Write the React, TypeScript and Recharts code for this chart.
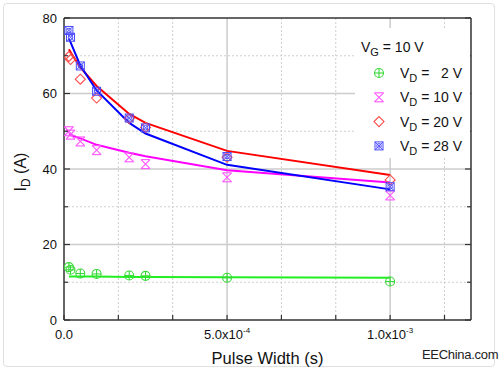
import React from "react";
import { ComposedChart, Line, Scatter, XAxis, YAxis, ReferenceLine, Legend } from "recharts";

// I_D vs pulse width at V_G = 10 V, four drain biases: measured points + fitted curves.

const FONT = '"Liberation Sans", Arial, sans-serif';

const pulseWidth = [1.5e-5, 2e-5, 5e-5, 1e-4, 2e-4, 2.5e-4, 5e-4, 1e-3];

const vd2Meas = [14.0, 13.3, 12.3, 12.2, 11.8, 11.7, 11.2, 10.2];
const vd10Meas = [50.0, 49.1, 47.3, 45.0, 43.1, 41.3, 37.8, 33.0];
const vd20Meas = [69.8, 69.0, 63.8, 58.8, 53.4, 51.0, 43.1, 37.1];
const vd28Meas = [76.7, 74.9, 67.3, 60.6, 53.5, 50.9, 43.3, 35.3];

const vd2Fit = [11.5, 11.5, 11.5, 11.5, 11.4, 11.4, 11.3, 11.2];
const vd10Fit = [49.2, 49.0, 48.1, 46.4, 44.3, 43.4, 39.7, 36.4];
const vd20Fit = [71.7, 71.0, 66.9, 62.0, 54.6, 52.2, 44.8, 38.4];
const vd28Fit = [74.5, 73.6, 67.4, 60.8, 52.2, 49.4, 41.1, 34.6];

const xTicks = [0, 1.667e-4, 3.333e-4, 5e-4, 6.667e-4, 8.333e-4, 1e-3, 1.1667e-3];
const xLabelTicks = [0, 5e-4, 1e-3];
const xLabelBase = ["0.0", "5.0x10", "1.0x10"];
const xLabelExp = ["", "-4", "-3"];
const xGridMajor = [5e-4, 1e-3];
const xGridMinor = [1.667e-4, 3.333e-4, 6.667e-4, 8.333e-4, 1.1667e-3];

const yTicks = [0, 10, 20, 30, 40, 50, 60, 70, 80];
const yLabelTicks = [0, 20, 40, 60, 80];
const yGridMajor = [20, 40, 60];
const yGridMinor = [10, 30, 50, 70];

const legendTitle = "10 V";
const legendValues = ["  2 V", "10 V", "20 V", "28 V"];

type Shape = "circlePlus" | "hourglass" | "diamond" | "boxX";

const series: { key: string; meas: number[]; fit: number[]; line: string; marker: string; shape: Shape }[] = [
  { key: "vd2", meas: vd2Meas, fit: vd2Fit, line: "#22ee22", marker: "#3ad83a", shape: "circlePlus" },
  { key: "vd10", meas: vd10Meas, fit: vd10Fit, line: "#ff00ff", marker: "#ff55ff", shape: "hourglass" },
  { key: "vd20", meas: vd20Meas, fit: vd20Fit, line: "#ff0000", marker: "#ff4a4a", shape: "diamond" },
  { key: "vd28", meas: vd28Meas, fit: vd28Fit, line: "#0000ff", marker: "#4a4aff", shape: "boxX" },
];

const toRows = (ys: number[]) => pulseWidth.map((x, i) => ({ x, y: ys[i] }));

function Marker({ cx, cy, shape, color }: { cx: number; cy: number; shape: Shape; color: string }) {
  const s = 4.5;
  if (shape === "circlePlus") {
    return (
      <g stroke={color} strokeWidth={1.1} fill="none">
        <circle cx={cx} cy={cy} r={s} />
        <line x1={cx - s} y1={cy} x2={cx + s} y2={cy} />
        <line x1={cx} y1={cy - s} x2={cx} y2={cy + s} />
      </g>
    );
  }
  if (shape === "hourglass") {
    return (
      <g stroke={color} strokeWidth={1.1} fill="none">
        <line x1={cx - s} y1={cy - s} x2={cx + s} y2={cy + s} />
        <line x1={cx + s} y1={cy - s} x2={cx - s} y2={cy + s} />
        <line x1={cx - s} y1={cy - s} x2={cx + s} y2={cy - s} />
        <line x1={cx - s} y1={cy + s} x2={cx + s} y2={cy + s} />
      </g>
    );
  }
  if (shape === "diamond") {
    return (
      <polygon
        points={`${cx},${cy - s - 0.5} ${cx + s + 0.5},${cy} ${cx},${cy + s + 0.5} ${cx - s - 0.5},${cy}`}
        stroke={color}
        strokeWidth={1.1}
        fill="none"
      />
    );
  }
  return (
    <g stroke={color} strokeWidth={1} fill="none">
      <rect x={cx - 4} y={cy - 4} width={8} height={8} />
      <line x1={cx - 4} y1={cy - 4} x2={cx + 4} y2={cy + 4} />
      <line x1={cx + 4} y1={cy - 4} x2={cx - 4} y2={cy + 4} />
      <circle cx={cx} cy={cy} r={2.3} />
    </g>
  );
}

function LeftTick(props: any) {
  const { x, y, payload } = props;
  const major = yLabelTicks.includes(payload.value);
  return (
    <g>
      <line x1={x} y1={y} x2={x + (major ? 6 : 4)} y2={y} stroke="#333" strokeWidth={1.2} />
      {major && (
        <text x={x - 7} y={y} dy={4.5} textAnchor="end" fontSize={13} fill="#111" fontFamily={FONT}>
          {payload.value}
        </text>
      )}
    </g>
  );
}

function RightTick(props: any) {
  const { x, y, payload } = props;
  const major = yLabelTicks.includes(payload.value);
  return <line x1={x} y1={y} x2={x - (major ? 6 : 4)} y2={y} stroke="#333" strokeWidth={1.2} />;
}

function BottomTick(props: any) {
  const { x, y, payload } = props;
  const idx = xLabelTicks.findIndex((v) => Math.abs(v - payload.value) < 1e-9);
  return (
    <g>
      <line x1={x} y1={y} x2={x} y2={y - 5} stroke="#333" strokeWidth={1.2} />
      {idx >= 0 && (
        <text x={x} y={y + 19} textAnchor="middle" fontSize={13} fill="#111" fontFamily={FONT}>
          {xLabelBase[idx]}
          {xLabelExp[idx] && (
            <tspan dy={-6} fontSize={8}>
              {xLabelExp[idx]}
            </tspan>
          )}
        </text>
      )}
    </g>
  );
}

function TopTick(props: any) {
  const { x, y } = props;
  return <line x1={x} y1={y} x2={x} y2={y + 5} stroke="#333" strokeWidth={1.2} />;
}

function LegendBox() {
  return (
    <svg width={115} height={130} style={{ display: "block" }}>
      <text x={6} y={24} fontSize={14} fill="#111" fontFamily={FONT} style={{ whiteSpace: "pre" }}>
        V<tspan dy={4} fontSize={11}>G</tspan>
        <tspan dy={-4}>{" = " + legendTitle}</tspan>
      </text>
      {series.map((s, i) => {
        const cy = 45 + i * 24.3;
        return (
          <g key={s.key}>
            <Marker cx={24} cy={cy} shape={s.shape} color={s.marker} />
            <text x={45} y={cy + 5} fontSize={14} fill="#111" fontFamily={FONT} style={{ whiteSpace: "pre" }}>
              V<tspan dy={4} fontSize={11}>D</tspan>
              <tspan dy={-4}>{" = " + legendValues[i]}</tspan>
            </text>
          </g>
        );
      })}
    </svg>
  );
}

export default function App() {
  return (
    <div style={{ position: "absolute", left: 0, top: 0, width: 500, height: 370, background: "#fff", fontFamily: FONT }}>
      <div
        style={{
          position: "absolute",
          left: 3,
          top: 3,
          width: 492,
          height: 364,
          border: "1px solid #e0e0e0",
          borderRadius: 4,
          boxSizing: "border-box",
        }}
      />
      <ComposedChart
        width={500}
        height={370}
        margin={{ top: 10, right: 19, bottom: 0, left: 8 }}
        style={{ position: "absolute", left: 0, top: 0 }}
      >
        <XAxis
          xAxisId="b"
          dataKey="x"
          type="number"
          domain={[0, 1.248e-3]}
          allowDataOverflow
          ticks={xTicks}
          interval={0}
          height={50}
          tickSize={0}
          tickMargin={0}
          tickLine={false}
          tick={<BottomTick />}
          axisLine={{ stroke: "#333", strokeWidth: 1.5 }}
          label={{
            content: ({ viewBox }: any) => (
              <text
                x={viewBox.x + viewBox.width / 2}
                y={viewBox.y + 44}
                textAnchor="middle"
                fontSize={16.5}
                fill="#111"
                fontFamily={FONT}
              >
                Pulse Width (s)
              </text>
            ),
          }}
        />
        <XAxis
          xAxisId="t"
          orientation="top"
          type="number"
          domain={[0, 1.248e-3]}
          allowDataOverflow
          ticks={xTicks}
          interval={0}
          height={8}
          tickSize={0}
          tickMargin={0}
          tickLine={false}
          tick={<TopTick />}
          axisLine={{ stroke: "#333", strokeWidth: 1.5 }}
        />
        <YAxis
          yAxisId="l"
          type="number"
          domain={[0, 80]}
          allowDataOverflow
          ticks={yTicks}
          interval={0}
          width={56}
          tickSize={0}
          tickMargin={0}
          tickLine={false}
          tick={<LeftTick />}
          axisLine={{ stroke: "#333", strokeWidth: 1.5 }}
          label={{
            content: () => (
              <text
                x={26}
                y={172}
                transform="rotate(-90, 26, 172)"
                textAnchor="middle"
                fontSize={16}
                fill="#111"
                fontFamily={FONT}
              >
                I<tspan dy={4} fontSize={12}>D</tspan>
                <tspan dy={-4}> (A)</tspan>
              </text>
            ),
          }}
        />
        <YAxis
          yAxisId="r"
          orientation="right"
          type="number"
          domain={[0, 80]}
          allowDataOverflow
          ticks={yTicks}
          interval={0}
          width={10}
          tickSize={0}
          tickMargin={0}
          tickLine={false}
          tick={<RightTick />}
          axisLine={{ stroke: "#333", strokeWidth: 1.5 }}
        />

        {xGridMinor.map((v) => (
          <ReferenceLine key={"xm" + v} x={v} xAxisId="b" yAxisId="l" stroke="#cfcfcf" strokeDasharray="2 2" />
        ))}
        {yGridMinor.map((v) => (
          <ReferenceLine key={"ym" + v} y={v} xAxisId="b" yAxisId="l" stroke="#cfcfcf" strokeDasharray="2 2" />
        ))}
        {xGridMajor.map((v) => (
          <ReferenceLine key={"xM" + v} x={v} xAxisId="b" yAxisId="l" stroke="#cccccc" strokeWidth={1.5} />
        ))}
        {yGridMajor.map((v) => (
          <ReferenceLine key={"yM" + v} y={v} xAxisId="b" yAxisId="l" stroke="#cccccc" strokeWidth={1.5} />
        ))}

        {series.map((s) => (
          <Line
            key={s.key + "-fit"}
            xAxisId="b"
            yAxisId="l"
            data={toRows(s.fit)}
            dataKey="y"
            type="linear"
            stroke={s.line}
            strokeWidth={2}
            dot={false}
            activeDot={false}
            isAnimationActive={false}
          />
        ))}
        {series.map((s) => (
          <Scatter
            key={s.key + "-meas"}
            xAxisId="b"
            yAxisId="l"
            data={toRows(s.meas)}
            dataKey="y"
            isAnimationActive={false}
            shape={(p: any) => <Marker cx={p.cx} cy={p.cy} shape={s.shape} color={s.marker} />}
          />
        ))}

        <Legend
          layout="vertical"
          align="center"
          verticalAlign="middle"
          content={() => <LegendBox />}
          wrapperStyle={{ left: 355, top: 28, width: 115, height: 130, background: "#fff" }}
        />
      </ComposedChart>
      <div style={{ position: "absolute", left: 422, top: 347, fontSize: 13, color: "#222", letterSpacing: -0.3 }}>
        EEChina.com
      </div>
    </div>
  );
}
